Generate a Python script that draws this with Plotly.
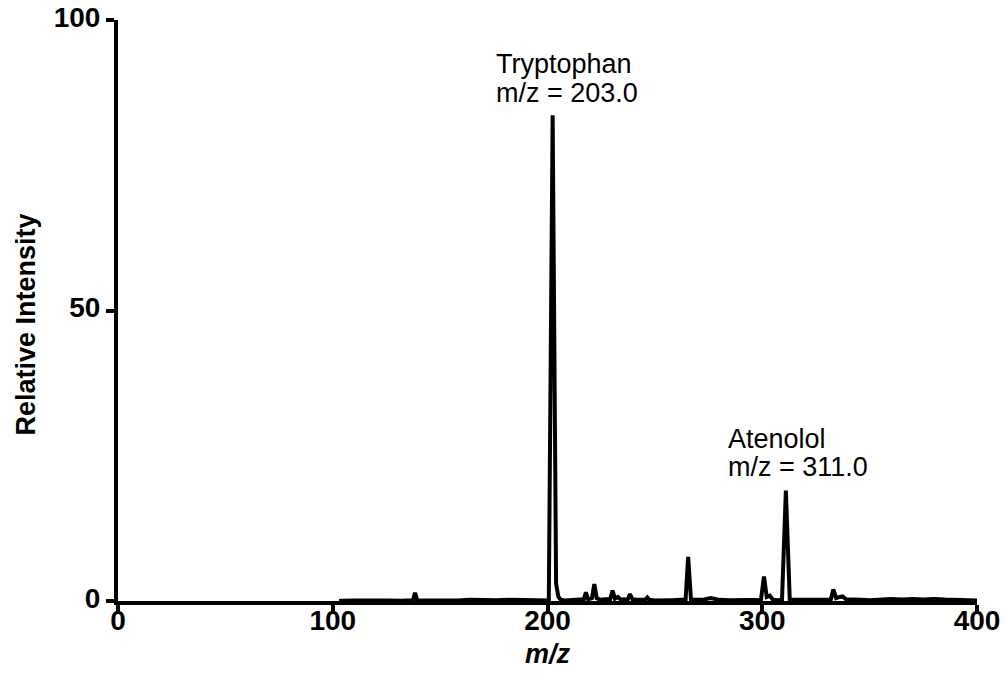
import plotly.graph_objects as go

# Spectrum profile (m/z, relative intensity)
mz = [103, 104, 110, 116, 120, 126, 132, 136, 137.4, 138.3, 139.3, 141, 146, 152, 158,
      164, 170, 176, 182, 188, 194, 198, 200.6, 202.4, 203.3, 204.0, 205.0, 206.2,
      208, 212, 215, 216.9, 217.9, 218.9, 220.7, 221.8, 222.9, 224.5, 227, 229.2,
      230.3, 231.4, 232.8, 234.2, 236, 237.3, 238.4, 239.6, 241.5, 244, 245.5, 246.5,
      247.5, 250, 254, 258, 262, 264.3, 265.5, 266.8, 268.3, 272, 276, 280, 285, 290,
      295, 299.4, 300.8, 302.1, 303.5, 305, 307, 309.2, 311.0, 312.8, 314, 316, 320,
      325, 329, 331.9, 333.1, 334.4, 336, 337.4, 339, 342, 346, 350, 355, 360, 365,
      370, 375, 380, 385, 390, 395, 400]
intensity = [0.0, 0.05, 0.1, 0.15, 0.05, 0.1, 0.05, 0.1, 0.15, 1.4, 0.15, 0.1, 0.05, 0.15, 0.1,
             0.2, 0.1, 0.15, 0.2, 0.15, 0.1, 0.2, 0.1, 83.6, 25.0, 3.0, 0.8, 0.2,
             0.1, 0.2, 0.15, 0.3, 1.5, 0.3, 0.5, 2.9, 0.5, 0.2, 0.3, 0.3,
             1.8, 0.4, 0.7, 0.2, 0.3, 0.2, 1.2, 0.3, 0.2, 0.2, 0.2, 0.6,
             0.2, 0.1, 0.2, 0.15, 0.2, 0.2, 7.6, 0.3, 0.2, 0.2, 0.5, 0.2, 0.15, 0.2,
             0.15, 0.2, 4.2, 0.7, 0.9, 0.2, 0.15, 0.2, 19.0, 0.3, 0.2, 0.2, 0.15,
             0.2, 0.2, 0.2, 2.0, 0.5, 0.7, 0.8, 0.3, 0.2, 0.2, 0.15, 0.25, 0.35, 0.25,
             0.35, 0.25, 0.35, 0.25, 0.2, 0.15, 0.1]

x_ticks = [0, 100, 200, 300, 400]
y_ticks = [0, 50, 100]

# (text, m/z position of left edge, intensity at line middle)
label_lines = [
    ("Tryptophan", 175.4, 92.4),
    ("m/z = 203.0", 175.4, 87.5),
    ("Atenolol", 283.4, 27.9),
    ("m/z = 311.0", 283.4, 23.0),
]

fig = go.Figure()
fig.add_trace(go.Scatter(x=mz, y=intensity, mode="lines",
                         line=dict(color="black", width=4), hoverinfo="skip",
                         showlegend=False))

for txt, ax, ay in label_lines:
    fig.add_annotation(x=ax, y=ay, xref="x", yref="y", text=txt, showarrow=False,
                       xanchor="left", yanchor="middle", align="left", borderpad=0,
                       font=dict(family="Liberation Sans, Arial", size=27, color="black"))

title_font = dict(family="Liberation Sans, Arial", size=27, color="black")
# y-axis title as a rotated text annotation so it sits where the reference has it
fig.add_annotation(x=-0.107, y=47.6, xref="paper", yref="y", text="<b>Relative Intensity</b>",
                   textangle=-90, showarrow=False, xanchor="center", yanchor="middle",
                   font=title_font)

tick_font = dict(family="Liberation Sans, Arial", size=28, color="black")
fig.update_layout(
    width=1006, height=686,
    margin=dict(l=118, r=29, t=20, b=85, autoexpand=False),
    paper_bgcolor="white", plot_bgcolor="white",
    xaxis=dict(range=[0, 400], tickvals=x_ticks, ticktext=[f"<b>{v}</b>" for v in x_ticks],
               showline=True, linecolor="black", linewidth=4, ticks="outside",
               ticklen=8, tickwidth=4, tickcolor="black", showgrid=False, zeroline=False,
               tickfont=tick_font, automargin=False, ticklabelstandoff=-17,
               title=dict(text="<b><i>m/z</i></b>", font=title_font, standoff=11)),
    yaxis=dict(range=[0, 100], tickvals=y_ticks, ticktext=[f"<b>{v}</b>" for v in y_ticks],
               showline=True, linecolor="black", linewidth=4, ticks="outside",
               ticklen=8, tickwidth=4, tickcolor="black", showgrid=False, zeroline=False,
               tickfont=tick_font, automargin=False, ticklabelshift=-3),
)

fig.write_html("out.html")
